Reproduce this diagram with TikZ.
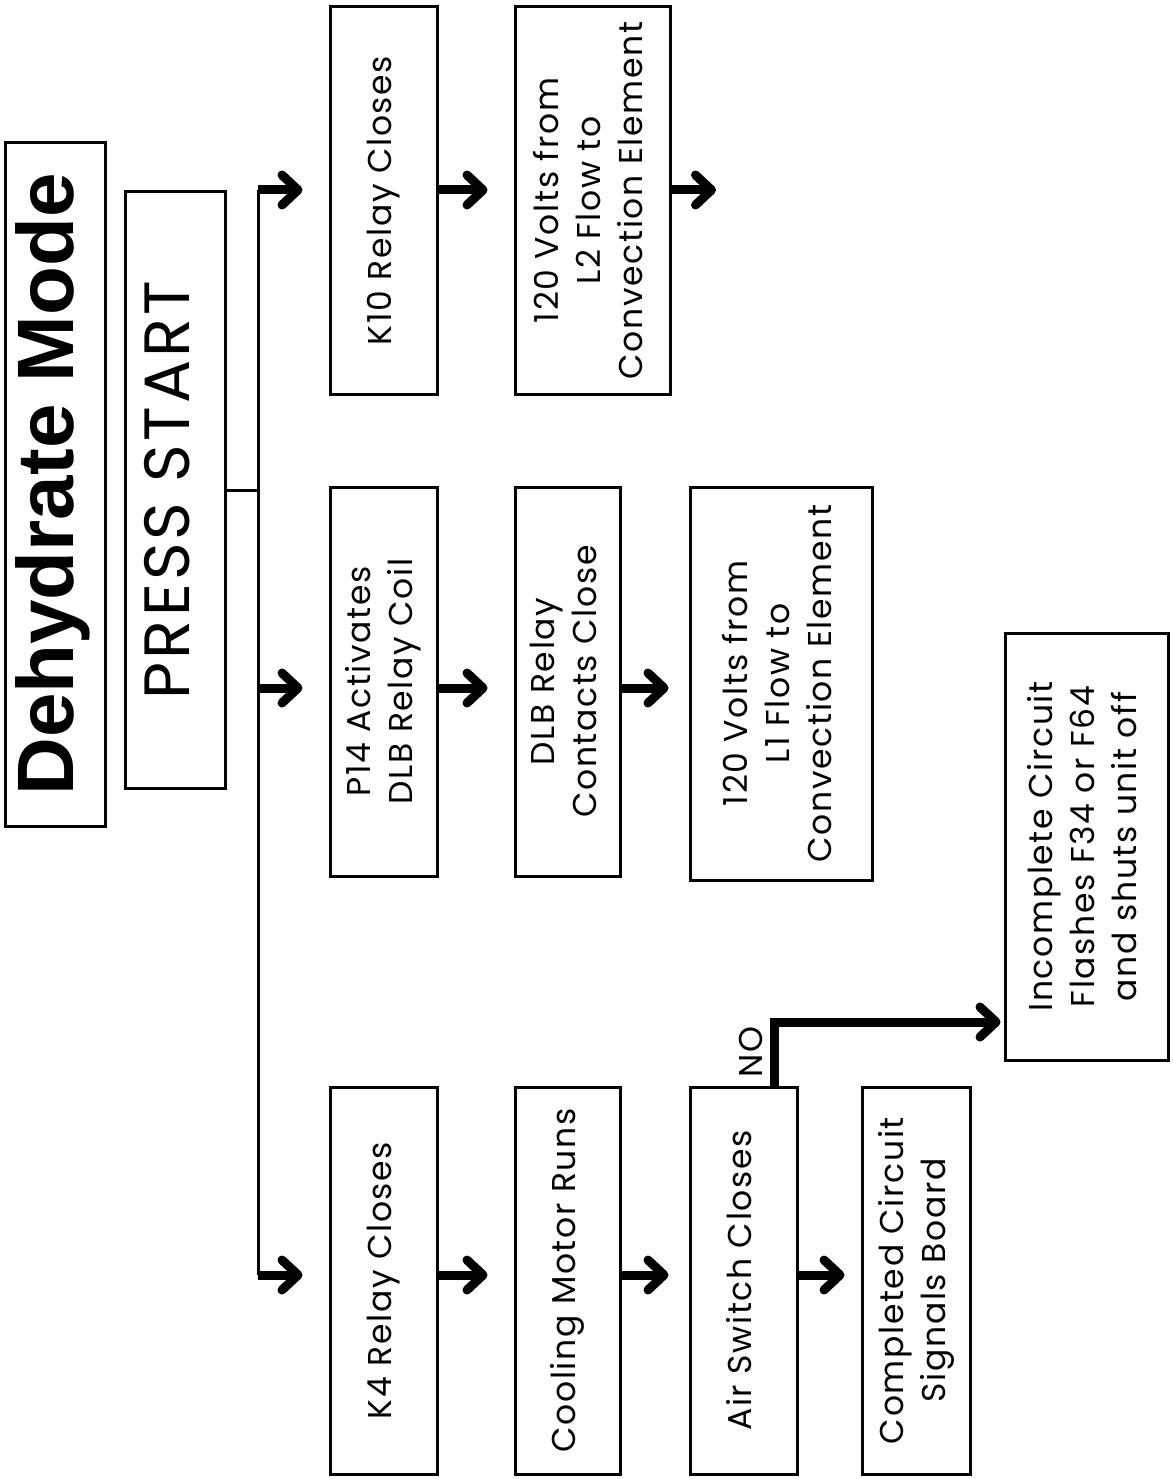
\documentclass[tikz,border=0pt]{standalone}
\usepackage{fontspec}
\setmainfont{Poppins}[LetterSpace=5]
\newfontfamily\headfont{Liberation Sans}
\usepackage{graphicx}
\usetikzlibrary{arrows.meta,calc}
\newcommand{\vtext}[1]{\rotatebox{90}{\begin{tabular}{@{}c@{}}#1\end{tabular}}}

\begin{document}
\begin{tikzpicture}[x=1pt,y=-1pt,box/.style={draw,line width=3pt,inner sep=0pt,minimum width=107pt,minimum height=387pt,font=\fontsize{33}{42}\selectfont},wire/.style={line width=3pt},flow/.style={line width=9pt,-{Straight Barb[round,length=16pt,width=30pt]},shorten >=26pt}]
\useasboundingbox (0,0) rectangle (1172,1479);
\node[box,minimum width=100pt,minimum height=683pt,font=\headfont\bfseries\fontsize{80}{90}\selectfont] (title) at (55,484.5) {\vtext{Dehydrate Mode}};
\node[box,minimum width=100pt,minimum height=596pt,font=\fontsize{64}{70}\selectfont] (press) at (175,490) {\vtext{PRESS START}};
\node[box] (k10) at (383.5,200.5) {\vtext{K10 Relay Closes}};
\node[box,minimum height=389pt] (p14) at (383.5,681.5) {\vtext{P14 Activates\\DLB Relay Coil}};
\node[box] (k4) at (383.5,1280.5) {\vtext{K4 Relay Closes}};
\node[box,minimum width=155pt] (l2) at (592.5,200.5) {\vtext{120 Volts from\\L2 Flow to\\Convection Element}};
\node[box,minimum width=105pt,minimum height=389pt] (dlb) at (567.5,681.5) {\vtext{DLB Relay\\Contacts Close}};
\node[box,minimum width=105pt] (motor) at (567.5,1280.5) {\vtext{Cooling Motor Runs}};
\node[box,minimum width=182pt,minimum height=393pt] (l1) at (781,683.5) {\vtext{120 Volts from\\L1 Flow to\\Convection Element}};
\node[box] (air) at (743.5,1280.5) {\vtext{Air Switch Closes}};
\node[box,minimum width=108pt] (done) at (916,1280.5) {\vtext{Completed Circuit\\Signals Board}};
\node[box,minimum width=163pt,minimum height=427pt] (fail) at (1086.5,846.5) {\vtext{Incomplete Circuit\\Flashes F34 or F64\\and shuts unit off}};
\node[font=\fontsize{33}{42}\selectfont,inner sep=0pt] (no) at (751,1052) {\rotatebox{90}{NO}};
% junctions on the trunk
\coordinate (jk10) at (258,190);
\coordinate (jp14) at (258,688);
\coordinate (jk4) at (258,1275);
\coordinate (l2out) at (716,190);
\coordinate (bend) at (774,1022);
\draw[wire] (press.east) -- (press.east -| jk10);
\draw[wire] (jk10) -- (jk4);
\draw[flow] (jk10) -- (jk10 -| k10.west);
\draw[flow] (jk10 -| k10.east) -- (jk10 -| l2.west);
\draw[flow,shorten >=0pt] (jk10 -| l2.east) -- (l2out);
\draw[flow] (jp14) -- (jp14 -| p14.west);
\draw[flow] (jp14 -| p14.east) -- (jp14 -| dlb.west);
\draw[flow,shorten >=20pt] (jp14 -| dlb.east) -- (jp14 -| l1.west);
\draw[flow] (jk4) -- (jk4 -| k4.west);
\draw[flow] (jk4 -| k4.east) -- (jk4 -| motor.west);
\draw[flow,shorten >=20pt] (jk4 -| motor.east) -- (jk4 -| air.west);
\draw[flow,shorten >=16pt] (jk4 -| air.east) -- (jk4 -| done.west);
\draw[flow,shorten >=3pt] (bend |- air.north) |- (bend -| fail.west);
\end{tikzpicture}
\end{document}
